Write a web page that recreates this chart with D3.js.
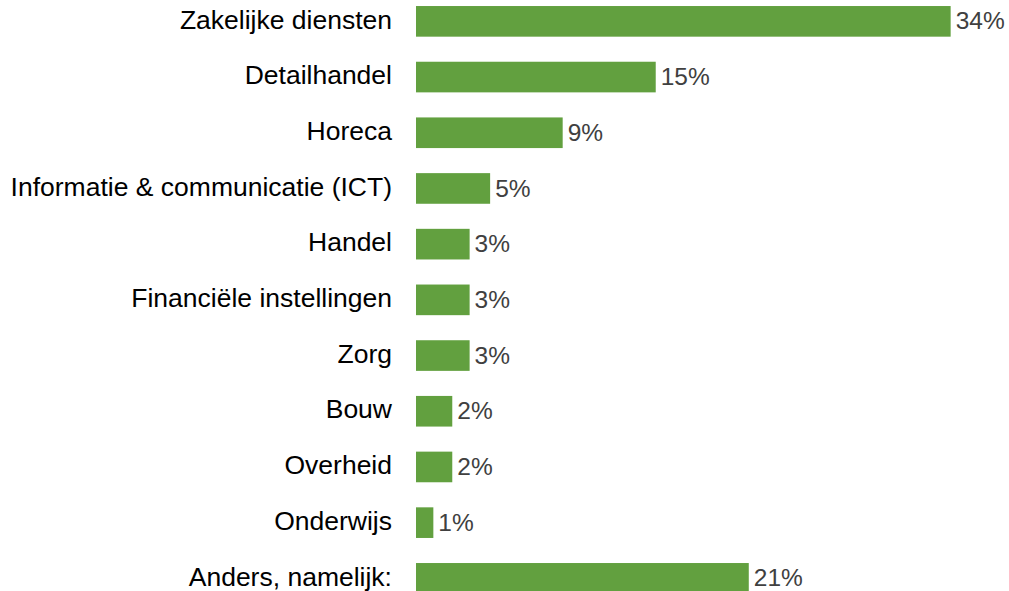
<!DOCTYPE html>
<html>
<head>
<meta charset="utf-8">
<script src="https://cdn.jsdelivr.net/npm/d3@7"></script>
<style>
  html, body { margin: 0; padding: 0; background: #ffffff; }
  svg { display: block; }
  text { font-family: "Liberation Sans", Arial, sans-serif; }
</style>
</head>
<body>
<svg id="chart" width="1009" height="591"></svg>
<script>
const categories = [
  "Zakelijke diensten",
  "Detailhandel",
  "Horeca",
  "Informatie & communicatie (ICT)",
  "Handel",
  "Financiële instellingen",
  "Zorg",
  "Bouw",
  "Overheid",
  "Onderwijs",
  "Anders, namelijk:"
];
const values = [33.9, 15.2, 9.3, 4.7, 3.4, 3.4, 3.4, 2.3, 2.3, 1.1, 21.1];

const data = categories.map((c, i) => ({ category: c, value: values[i] }));

const svg = d3.select("#chart");

const x = d3.scaleLinear().domain([0, 35]).range([416, 968]);
const y = d3.scaleBand()
  .domain(categories)
  .range([-6.5, 606.2])
  .paddingInner(0.45)
  .paddingOuter(0.225);

const fmt = v => d3.format(".0f")(v) + "%";

// bars
svg.append("g")
  .selectAll("rect")
  .data(data)
  .join("rect")
  .attr("x", x(0))
  .attr("y", d => y(d.category))
  .attr("width", d => x(d.value) - x(0))
  .attr("height", y.bandwidth())
  .attr("fill", "#62A03F");

// category axis (labels only)
const yAxis = d3.axisLeft(y).tickSize(0).tickPadding(0);
const gy = svg.append("g")
  .attr("transform", "translate(392,0)")
  .call(yAxis);
gy.select(".domain").remove();
gy.selectAll("text")
  .attr("font-family", "'Liberation Sans', Arial, sans-serif")
  .attr("font-size", 26.5)
  .attr("dy", "0.27em")
  .attr("fill", "#000000");

// value labels
svg.append("g")
  .selectAll("text")
  .data(data)
  .join("text")
  .attr("x", d => x(d.value) + 5)
  .attr("y", d => y(d.category) + y.bandwidth() / 2)
  .attr("dy", "0.33em")
  .attr("font-size", 24.5)
  .attr("fill", "#404040")
  .text(d => fmt(d.value));
</script>
</body>
</html>
